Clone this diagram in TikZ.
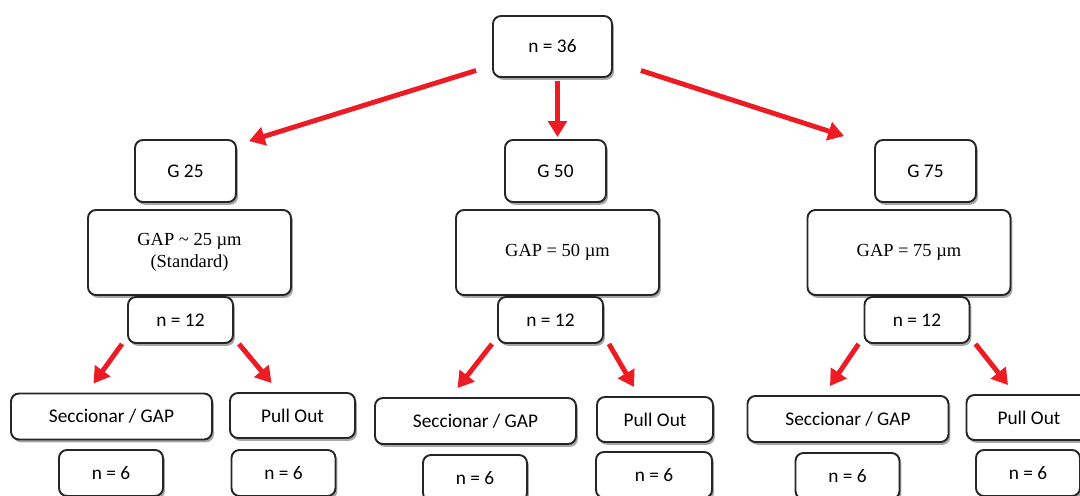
\documentclass[tikz,border=0pt]{standalone}
\usepackage{fontspec}
\setmainfont{Carlito}
\newfontfamily\gapfont{Liberation Serif}
\usetikzlibrary{calc,arrows.meta,shadows}
\definecolor{arrowred}{RGB}{237,28,36}
\tikzset{
    box/.style={draw=black!85,line width=1.1pt,rounded corners=4.5pt,fill=white,
        drop shadow={shadow xshift=1.1pt,shadow yshift=-1.6pt,fill=black!35,opacity=1},
        inner sep=0pt,font=\fontsize{11}{13}\selectfont},
    gapbox/.style={box,font=\gapfont\fontsize{10.5}{12.5}\selectfont,align=center},
    redarrow/.style={draw=arrowred,line width=2.8pt,-{Triangle[length=9pt,width=10.5pt]}}
}

\begin{document}
\begin{tikzpicture}[x=0.02cm,y=-0.02cm]
    \clip (0,0) rectangle (1080,495);
    \node[box,minimum width=2.38cm,minimum height=1.22cm] (top) at (552.5,46.5) {n = 36};
    \foreach \c/\g/\gx/\ax/\nx/\sx/\sy/\px/\py/\pw/\ux/\uy/\vx/\vy/\vw/\txt in {
        a/25/185.5/189.5/180.5/111.5/416.5/292.5/415.5/2.5/111/473/283.5/473/2.08/{GAP \textasciitilde{} 25 µm\\(Standard)},
        b/50/555.5/557.5/550.5/475.5/421/655/419.5/2.32/475/478/654/475/2.32/{GAP = 50 µm},
        c/75/925.5/909/917/848/419/1029/417.5/2.5/847.5/476/1028/473/2.08/{GAP = 75 µm}} {
        \node[box,minimum width=2.02cm,minimum height=1.24cm] (g\c) at (\gx,171) {G \g};
        \node[gapbox,minimum width=4.06cm,minimum height=1.7cm] (gap\c) at (\ax,252.5) {\txt};
        \node[box,minimum width=2.1cm,minimum height=0.92cm] (n\c) at (\nx,320) {n = 12};
        \node[box,minimum width=4.02cm,minimum height=0.92cm] (s\c) at (\sx,\sy) {Seccionar / GAP};
        \node[box,minimum width=\pw cm,minimum height=0.9cm] (p\c) at (\px,\py) {Pull Out};
        \node[box,minimum width=2.08cm,minimum height=0.92cm] (u\c) at (\ux,\uy) {n = 6};
        \node[box,minimum width=\vw cm,minimum height=0.92cm] (v\c) at (\vx,\vy) {n = 6};
        \draw[redarrow] ($(n\c.south west)+(-5,0)$) -- ($(s\c.north)+(-18,-9)$);
        \draw[redarrow] ($(n\c.south east)+(5,0)$) -- ($(p\c.north)+(-21,-9)$);
    }
    \draw[redarrow] ($(top.west)+(-16,24)$) -- ($(ga.north east)+(12,2)$);
    \draw[redarrow] ($(top.south)+(5,3)$) -- ($(gb.north)+(2,-2)$);
    \draw[redarrow] ($(top.east)+(28,24)$) -- ($(gc.north west)+(-30,-3)$);
\end{tikzpicture}
\end{document}
